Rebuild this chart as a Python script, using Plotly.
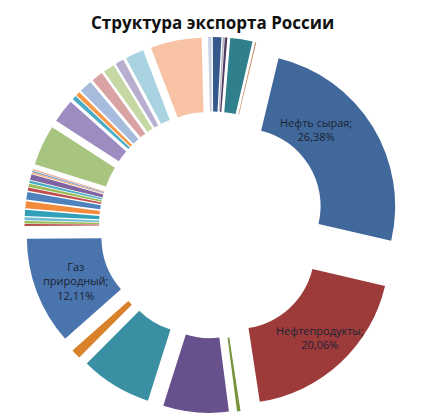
import plotly.graph_objects as go

# Slices in clockwise order starting near 12 o'clock (sizes)
labels = [
    "Прочее 1", "Прочее 2", "Прочее 3", "Прочее 4", "Прочее 5", "Прочее 6",
    "Нефть сырая", "Нефтепродукты",
    "Прочее 7", "Прочее 8", "Прочее 9", "Прочее 10",
    "Газ природный",
    "Прочее 11", "Прочее 12", "Прочее 13", "Прочее 14", "Прочее 15", "Прочее 16",
    "Прочее 17", "Прочее 18", "Прочее 19", "Прочее 20", "Прочее 21", "Прочее 22", "Прочее 23",
    "Прочее 24", "Прочее 25",
    "Прочее 26", "Прочее 27", "Прочее 28", "Прочее 29", "Прочее 30", "Прочее 31", "Прочее 32",
    "Прочее 33",
]
values = [
    0.38, 0.95, 0.19, 0.28, 2.5, 0.12,
    26.38, 20.06,
    0.38, 7.36, 8.0, 1.09,
    12.11,
    0.21, 0.28, 0.35, 0.7, 0.78, 0.85, 0.35, 0.35, 0.28, 0.63, 0.14, 0.14, 0.17,
    4.53, 2.65,
    0.48, 0.48, 1.44, 1.28, 1.28, 0.96, 2.08,
    5.74,
]
colors = [
    "#c9d0e2", "#34598a", "#b9b3c8", "#4d3b62", "#2f7f8c", "#c08a60",
    "#41689b", "#9d3b3b",
    "#77933c", "#67508c", "#3a8fa3", "#d9822b",
    "#4a74ad",
    "#b84a47", "#9bbb59", "#6fbdd1", "#31a0b8", "#f28c3c", "#4f81bd", "#c0504d",
    "#9bbb59", "#4bacc6", "#8064a2", "#f9ab6b", "#729aca", "#f0b09a",
    "#a7c57f", "#9d8cbf",
    "#4bacc6", "#f79646", "#a7bbdc", "#d9a3a3", "#c6d8a3", "#b7aed0", "#a9d3e0",
    "#f8c2a4",
]

# Data labels shown on the chart
label_text = ["Нефть сырая;<br>26,38%", "Нефтепродукты;<br>20,06%", "Газ<br>природный;<br>12,11%"]
label_x = [316 / 424, 320 / 424, 76 / 424]
label_y = [1 - 129 / 417, 1 - 337 / 417, 1 - 281 / 417]

fig = go.Figure(go.Pie(
    labels=labels,
    values=values,
    textinfo="none",
    marker=dict(colors=colors, line=dict(width=0)),
    sort=False,
    direction="clockwise",
    rotation=-1.5,
    hole=0.51,
    pull=[0.235] * len(labels),
    domain=dict(x=[0.0578, 0.9446], y=[0.0096, 0.9113]),
    showlegend=False,
))

for t, x, y in zip(label_text, label_x, label_y):
    fig.add_annotation(
        text=t, x=x, y=y, xref="paper", yref="paper",
        xanchor="center", yanchor="middle", showarrow=False,
        font=dict(family="Open Sans", size=11, color="#1b2333"),
    )

fig.add_annotation(
    text="<b>Структура экспорта России</b>",
    x=0.5, y=1 - 22 / 417, xref="paper", yref="paper",
    xanchor="center", yanchor="middle", showarrow=False,
    font=dict(family="Open Sans", size=17, color="#111111"),
)

fig.update_layout(
    width=424, height=417,
    margin=dict(l=0, r=0, t=0, b=0),
    paper_bgcolor="white", plot_bgcolor="white",
)

fig.write_html("out.html")
